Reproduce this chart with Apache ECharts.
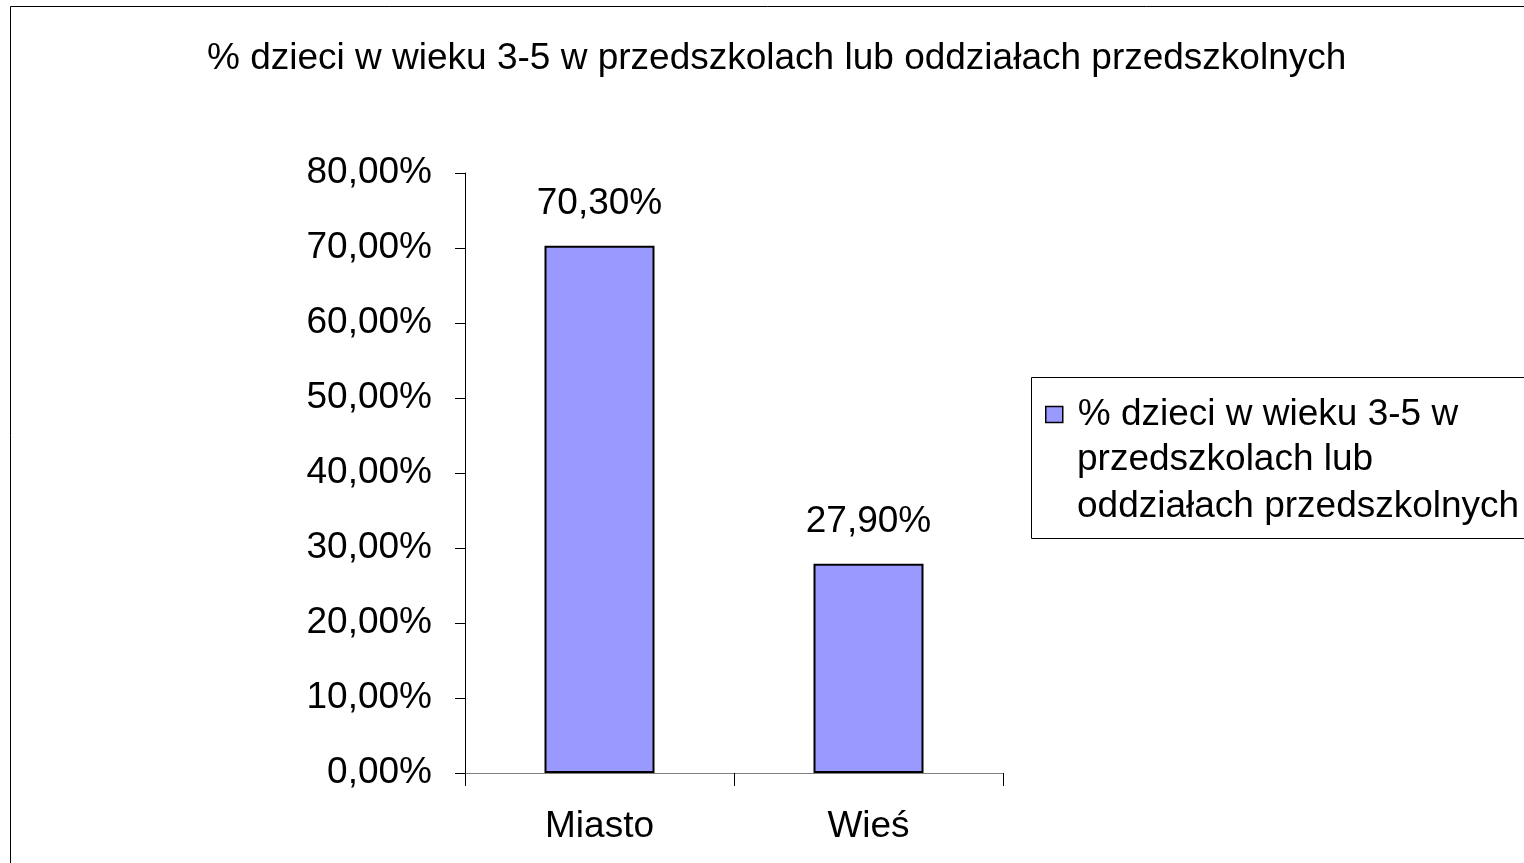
<!DOCTYPE html>
<html>
<head>
<meta charset="utf-8">
<script src="https://cdn.jsdelivr.net/npm/echarts@6/dist/echarts.min.js"></script>
<style>
  html, body { margin: 0; padding: 0; background: #fff; }
  #chart { width: 1524px; height: 863px; }
</style>
</head>
<body>
<div id="chart"></div>
<script>
const title = '% dzieci w wieku 3-5 w przedszkolach lub oddziałach przedszkolnych'
const categories = ['Miasto', 'Wieś']
const values = [70.3, 27.9]
const seriesName = '% dzieci w wieku 3-5 w przedszkolach lub oddziałach przedszkolnych'
// the legend wraps the series name over three lines
const legendLines = ['% dzieci w wieku 3-5 w', 'przedszkolach lub', 'oddziałach przedszkolnych']
const yMin = 0
const yMax = 80
const yStep = 10

const font = '"Liberation Sans", Arial, sans-serif'
const fs = 37
const pct = v => v.toFixed(2).replace('.', ',') + '%'

const chart = echarts.init(document.getElementById('chart'))
chart.setOption({
  animation: false,
  backgroundColor: '#fff',
  textStyle: { fontFamily: font },
  title: {
    text: title,
    left: 207,
    top: 40,
    padding: 0,
    textStyle: { fontFamily: font, fontSize: fs, fontWeight: 'normal', color: '#000' }
  },
  graphic: [
    // outer chart frame, cut off at right and bottom
    { type: 'rect', shape: { x: 10.5, y: 6.5, width: 1530, height: 900 }, style: { fill: null, stroke: '#000', lineWidth: 1 }, z: -1 },
    // legend frame
    { type: 'rect', shape: { x: 1031.5, y: 377.5, width: 520, height: 161 }, style: { fill: '#fff', stroke: '#000', lineWidth: 1 }, z: -1 },
    // wrapped lines of the legend entry
    { type: 'text', x: 1077, y: 460, style: { text: legendLines[1], font: fs + 'px ' + font, fill: '#000', verticalAlign: 'middle' } },
    { type: 'text', x: 1077, y: 507, style: { text: legendLines[2], font: fs + 'px ' + font, fill: '#000', verticalAlign: 'middle' } }
  ],
  legend: {
    left: 1045,
    top: 396,
    padding: 0,
    itemWidth: 17,
    itemHeight: 16,
    itemGap: 0,
    itemTextGap: 5,
    icon: 'rect',
    itemStyle: { borderColor: '#000', borderWidth: 1.5 },
    textStyle: { fontFamily: font, fontSize: fs, color: '#000', padding: [0, 0, 0, 10] },
    formatter: () => legendLines[0],
    data: [{ name: seriesName }]
  },
  grid: { left: 465, right: 521, top: 173, bottom: 90, containLabel: false },
  xAxis: {
    type: 'category',
    data: categories,
    axisLine: { lineStyle: { color: '#808080', width: 1 } },
    axisTick: { show: true, length: 13, alignWithLabel: false, lineStyle: { color: '#000' } },
    axisLabel: { fontFamily: font, fontSize: fs, color: '#000', margin: 35 }
  },
  yAxis: {
    type: 'value',
    min: yMin,
    max: yMax,
    interval: yStep,
    splitLine: { show: false },
    axisLine: { show: true, lineStyle: { color: '#000', width: 1 } },
    axisTick: { show: true, length: 10, lineStyle: { color: '#000' } },
    axisLabel: { fontFamily: font, fontSize: fs, color: '#000', margin: 33, formatter: v => pct(v) }
  },
  series: [{
    name: seriesName,
    type: 'bar',
    data: values,
    barWidth: 110,
    itemStyle: { color: '#9999ff', borderColor: '#000', borderWidth: 2 },
    label: {
      show: true,
      position: 'top',
      distance: 23,
      fontFamily: font,
      fontSize: fs,
      color: '#000',
      formatter: p => pct(p.value)
    }
  }]
})
</script>
</body>
</html>
